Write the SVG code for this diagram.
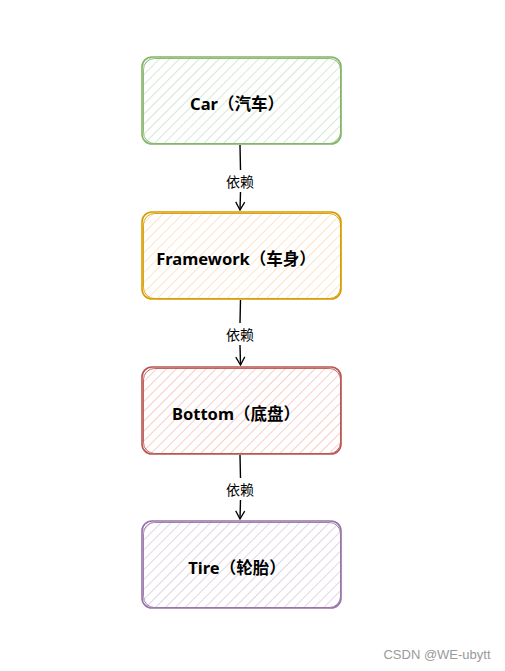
<svg xmlns="http://www.w3.org/2000/svg" width="505" height="671" viewBox="0 0 505 671">
<defs>
<pattern id="hg" patternUnits="userSpaceOnUse" width="7" height="7" patternTransform="rotate(45)"><line x1="0" y1="0" x2="0" y2="7" stroke="#c9e2c7" stroke-width="1.6"/></pattern>
<pattern id="ho" patternUnits="userSpaceOnUse" width="7" height="7" patternTransform="rotate(45)"><line x1="0" y1="0" x2="0" y2="7" stroke="#ffdcb8" stroke-width="1.6"/></pattern>
<pattern id="hr" patternUnits="userSpaceOnUse" width="7" height="7" patternTransform="rotate(45)"><line x1="0" y1="0" x2="0" y2="7" stroke="#f5c0bd" stroke-width="1.6"/></pattern>
<pattern id="hp" patternUnits="userSpaceOnUse" width="7" height="7" patternTransform="rotate(45)"><line x1="0" y1="0" x2="0" y2="7" stroke="#d8cae0" stroke-width="1.6"/></pattern>
<marker id="arr" markerWidth="12" markerHeight="12" refX="10" refY="6" orient="auto" markerUnits="userSpaceOnUse" viewBox="0 0 12 12">
<path d="M2,1.5 L10,6 L2,10.5" fill="none" stroke="#000" stroke-width="1.3"/>
</marker>
</defs>
<style>
.box{stroke-width:1.6}
.box2{fill:none;stroke-width:0.9}
.t{font-family:"Comic Sans MS","Noto Sans","Noto Sans CJK SC",sans-serif;font-weight:bold;font-size:16.5px;text-anchor:middle;dominant-baseline:central;fill:#000}
.lb{font-family:"Noto Sans CJK SC",sans-serif;font-size:14px;text-anchor:middle;dominant-baseline:central;fill:#000}
.ln{stroke:#000;stroke-width:1.4;fill:none}
</style>
<rect width="505" height="671" fill="#fff"/>
<g id="connectors">
<path class="ln" d="M240,145 L240.5,170"/>
<path class="ln" d="M240.5,192 L240,210" marker-end="url(#arr)"/>
<text class="lb" x="240" y="181">依赖</text>
<path class="ln" d="M240.5,300 L240,323" stroke-width="2"/>
<path class="ln" d="M240,345 L240.5,365" marker-end="url(#arr)"/>
<text class="lb" x="240" y="334">依赖</text>
<path class="ln" d="M240,455 L240.5,478"/>
<path class="ln" d="M240.5,500 L240,519" marker-end="url(#arr)"/>
<text class="lb" x="240" y="489">依赖</text>
</g>
<g id="car">
<rect class="box" x="142" y="57" width="199" height="87" rx="10" fill="url(#hg)" stroke="#82b366"/>
<rect class="box2" x="143.5" y="58.5" width="197" height="85" rx="11" stroke="#82b366"/>
<text class="t" x="237" y="103">Car（汽车）</text>
</g>
<g id="framework">
<rect class="box" x="142" y="212" width="199" height="87" rx="10" fill="url(#ho)" stroke="#d79b00"/>
<rect class="box2" x="143.5" y="213.5" width="197" height="85" rx="11" stroke="#d79b00"/>
<text class="t" x="236" y="258">Framework（车身）</text>
</g>
<g id="bottom">
<rect class="box" x="142" y="367" width="199" height="87" rx="10" fill="url(#hr)" stroke="#b85450"/>
<rect class="box2" x="143.5" y="368.5" width="197" height="85" rx="11" stroke="#b85450"/>
<text class="t" x="236" y="413">Bottom（底盘）</text>
</g>
<g id="tire">
<rect class="box" x="142" y="521" width="199" height="87" rx="10" fill="url(#hp)" stroke="#9673a6"/>
<rect class="box2" x="143.5" y="522.5" width="197" height="85" rx="11" stroke="#9673a6"/>
<text class="t" x="237" y="567">Tire（轮胎）</text>
</g>
<text x="437" y="654" font-family="Liberation Sans, Arial, sans-serif" font-size="13" fill="#9a9a9a" text-anchor="middle" dominant-baseline="central">CSDN @WE-ubytt</text>
</svg>
